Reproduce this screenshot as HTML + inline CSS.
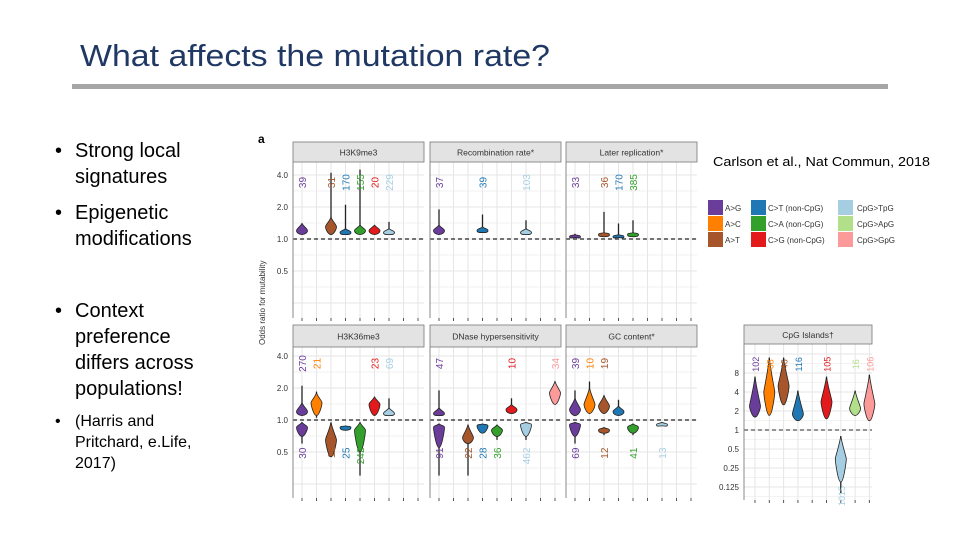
<!DOCTYPE html>
<html><head><meta charset="utf-8"><style>
body{margin:0;width:960px;height:540px;background:#fff;overflow:hidden;font-family:"Liberation Sans",sans-serif}
svg{position:absolute;left:0;top:0}
</style></head><body>
<svg id="s" width="960" height="540" xmlns="http://www.w3.org/2000/svg">
<text x="80" y="66" font-size="31" textLength="470" lengthAdjust="spacingAndGlyphs" fill="#1F3864">What affects the mutation rate?</text>
<rect x="72" y="84" width="816" height="5" fill="#a6a6a6"/>
<g font-size="20" fill="#000">
<text x="55" y="157">•</text><text x="75" y="157">Strong local</text><text x="75" y="183">signatures</text>
<text x="55" y="219">•</text><text x="75" y="219">Epigenetic</text><text x="75" y="245">modifications</text>
<text x="55" y="317">•</text><text x="75" y="317">Context</text><text x="75" y="343">preference</text><text x="75" y="369">differs across</text><text x="75" y="395">populations!</text>
<text x="55" y="426" font-size="16">•</text><text x="75" y="426" font-size="16">(Harris and</text><text x="75" y="447" font-size="16">Pritchard, e.Life,</text><text x="75" y="468" font-size="16">2017)</text>
</g>
<text x="713" y="166" font-size="12.5" textLength="217" lengthAdjust="spacingAndGlyphs">Carlson et al., Nat Commun, 2018</text>
<text x="258" y="143" font-size="12" font-weight="bold">a</text>
<text transform="translate(265,345) rotate(-90)" font-size="8" fill="#333">Odds ratio for mutability</text>
<g id="fig"></g>
</svg>
<script>
const colors=["#6a3d9a","#ff7f00","#a6562a","#1f78b4","#33a02c","#e31a1c","#a6cee3","#b2df8a","#fb9a99"];
const legendLabels=["A>G","A>C","A>T","C>T (non-CpG)","C>A (non-CpG)","C>G (non-CpG)","CpG>TpG","CpG>ApG","CpG>GpG"];
const panelTitles=["H3K9me3","Recombination rate*","Later replication*","H3K36me3","DNase hypersensitivity","GC content*","CpG Islands\u2020"];
const p0Slot=[0,2,3,4,5,6]; const p0Lo=[1.1,1.1,1.1,1.1,1.1,1.1]; const p0Mid=[1.2,1.3,1.15,1.2,1.2,1.15]; const p0Hi=[1.4,1.6,1.25,1.35,1.35,1.25]; const p0WLo=[1.1,1.1,1.1,1.1,1.1,1.1]; const p0WHi=[1.4,4.2,2.1,4.5,1.35,1.45]; const p0N=["39","31","170","155","20","229"];
const p1Slot=[0,3,6]; const p1Lo=[1.1,1.15,1.1]; const p1Mid=[1.2,1.2,1.15]; const p1Hi=[1.35,1.3,1.25]; const p1WLo=[1.1,1.15,1.1]; const p1WHi=[1.9,1.7,1.5]; const p1N=["37","39","103"];
const p2Slot=[0,2,3,4]; const p2Lo=[1.03,1.05,1.03,1.05]; const p2Mid=[1.05,1.1,1.05,1.1]; const p2Hi=[1.1,1.15,1.1,1.15]; const p2WLo=[1.03,1.05,1.03,1.05]; const p2WHi=[1.12,1.8,1.4,1.5]; const p2N=["33","36","170","385"];
const p3Slot=[0,0,1,2,3,4,5,6]; const p3Lo=[1.1,0.7,1.1,0.45,0.8,0.5,1.1,1.1]; const p3Mid=[1.2,0.85,1.45,0.65,0.85,0.8,1.4,1.15]; const p3Hi=[1.45,0.95,1.8,0.95,0.88,0.95,1.65,1.3]; const p3WLo=[1.1,0.6,1.05,0.45,0.8,0.3,1.1,1.1]; const p3WHi=[2.1,0.95,1.85,0.95,0.88,0.95,1.65,1.6]; const p3N=["270","30","21","11","25","242","23","69"];
const p4Slot=[0,0,2,3,4,5,6,8]; const p4Lo=[1.1,0.55,0.6,0.75,0.7,1.15,0.7,1.4]; const p4Mid=[1.15,0.85,0.68,0.88,0.8,1.25,0.9,1.8]; const p4Hi=[1.3,0.92,0.9,0.92,0.9,1.4,0.95,2.3]; const p4WLo=[1.1,0.3,0.3,0.75,0.65,1.15,0.65,1.4]; const p4WHi=[1.9,0.92,0.9,0.92,0.9,1.6,0.95,2.3]; const p4N=["47","91","22","28","36","10","462","34"];
const p5Slot=[0,0,1,2,2,3,4,6]; const p5Lo=[1.1,0.7,1.15,1.15,0.75,1.1,0.75,0.88]; const p5Mid=[1.25,0.9,1.4,1.35,0.8,1.2,0.85,0.9]; const p5Hi=[1.6,0.95,2.0,1.7,0.85,1.35,0.92,0.95]; const p5WLo=[1.1,0.6,1.15,1.15,0.72,1.1,0.72,0.88]; const p5WHi=[1.9,0.95,2.3,1.7,0.85,1.55,0.92,0.95]; const p5N=["39","69","10","19","12","","41","13"];
const p6Slot=[0,1,2,3,5,6,7,8]; const p6Lo=[1.6,1.7,2.5,1.4,1.5,0.15,1.7,1.4]; const p6Mid=[2.4,4,5,1.8,2.8,0.35,2.2,2.6]; const p6Hi=[7,14,14,4.2,7,0.8,4.2,7.5]; const p6WLo=[1.6,1.7,2.5,1.4,1.5,0.1,1.7,1.4]; const p6WHi=[7,14,14,4.2,7,0.8,4.2,7.5]; const p6N=["102","68","46","116","105","1015","16","106"];
const yTicks=["4.0","2.0","1.0","0.5"]; const yTickVals=[4,2,1,0.5];
const cTicks=["8","4","2","1","0.5","0.25","0.125"]; const cTickVals=[8,4,2,1,0.5,0.25,0.125];
const data=[[p0Slot,p0Lo,p0Mid,p0Hi,p0WLo,p0WHi,p0N],[p1Slot,p1Lo,p1Mid,p1Hi,p1WLo,p1WHi,p1N],[p2Slot,p2Lo,p2Mid,p2Hi,p2WLo,p2WHi,p2N],[p3Slot,p3Lo,p3Mid,p3Hi,p3WLo,p3WHi,p3N],[p4Slot,p4Lo,p4Mid,p4Hi,p4WLo,p4WHi,p4N],[p5Slot,p5Lo,p5Mid,p5Hi,p5WLo,p5WHi,p5N],[p6Slot,p6Lo,p6Mid,p6Hi,p6WLo,p6WHi,p6N]];
const geo=[[293,142,162,318,239,32,131,9,14.5],[430,142,162,318,239,32,131,9,14.5],[566,142,162,318,239,32,131,9,14.5],
[293,325,347,498,420,32,131,9,14.5],[430,325,347,498,420,32,131,9,14.5],[566,325,347,498,420,32,131,9,14.5],[744,325,344,500,430,19,128,11,14.3]];
const NS="http://www.w3.org/2000/svg";const fig=document.getElementById('fig');
function mk(t,a,p){const e=document.createElementNS(NS,t);for(const k in a)e.setAttribute(k,a[k]);(p||fig).appendChild(e);return e;}
geo.forEach((g,pi)=>{
 const [px,ht,hb,pb,y1,dbl,w,s0,st]=g;
 const yS=v=>y1-Math.log2(v)*dbl; const xS=i=>px+s0+i*st;
 const grp=mk('g',{});
 
 
 mk('rect',{x:px,y:hb,width:w,height:pb-hb,fill:'#fff'},grp);
 const tv=pi==6?cTickVals:yTickVals;
 for(let k=-4;k<=4;k+=0.5){const yy=yS(Math.pow(2,k));if(yy>hb&&yy<pb)mk('line',{x1:px,x2:px+w,y1:yy,y2:yy,stroke:'#e6e6e6','stroke-width':k%1?0.6:1},grp);}
 for(let i=0;i<9;i++){mk('line',{x1:xS(i),x2:xS(i),y1:hb,y2:pb,stroke:'#e6e6e6'},grp);mk('line',{x1:xS(i),x2:xS(i),y1:pb,y2:pb+3,stroke:'#555'},grp);}
 mk('line',{x1:px,x2:px+w,y1:y1,y2:y1,stroke:pi==6?'#555':'#222','stroke-dasharray':'4,3','stroke-width':1.2},grp);
 mk('rect',{x:px,y:ht,width:w,height:hb-ht,fill:'#e3e3e3',stroke:'#777','stroke-width':0.8},grp);
 const tt=mk('text',{x:px+w/2,y:(ht+hb)/2+3.5,'font-size':8.5,'text-anchor':'middle',fill:'#333'},grp);tt.textContent=panelTitles[pi];
 mk('line',{x1:px,x2:px,y1:hb,y2:pb,stroke:'#888'},grp);
 if(pi==0||pi==3||pi==6){const tl=pi==6?cTicks:yTicks;tv.forEach((v,i)=>{const t=mk('text',{x:px-5,y:yS(v)+3,'font-size':8,'text-anchor':'end',fill:'#333'},grp);t.textContent=tl[i];});}
 const [sl,lo,mid,hi,wl,wh,n]=data[pi];
 sl.forEach((s,i)=>{
  const cx=xS(s),c=colors[s];const below=hi[i]<=1;
  const v=mk('g',{},grp);
  
  
  mk('line',{x1:cx,x2:cx,y1:yS(wl[i]),y2:yS(wh[i]),stroke:'#222','stroke-width':1.3},v);
  const yl=yS(lo[i]),ym=yS(mid[i]),yh=yS(hi[i]);const hw=5.5;
  const d=`M${cx},${yh} C${cx+2},${(yh+ym)/2} ${cx+hw},${ym-2} ${cx+hw},${ym} C${cx+hw},${ym+2} ${cx+3},${yl} ${cx},${yl} C${cx-3},${yl} ${cx-hw},${ym+2} ${cx-hw},${ym} C${cx-hw},${ym-2} ${cx-2},${(yh+ym)/2} ${cx},${yh}Z`;
  mk('path',{d:d,fill:c,stroke:'#222','stroke-width':0.8},v);
  if(n[i]){const t=mk('text',{'font-size':pi==6?9:10,fill:c},v);
   if(below){t.setAttribute('text-anchor','end');t.setAttribute('transform',`translate(${cx+4},${pi==6?yS(0.13):yS(0.55)}) rotate(-90)`);}
   else{t.setAttribute('text-anchor','middle');t.setAttribute('transform',`translate(${cx+4},${pi==6?yS(11):yS(3.4)}) rotate(-90)`);}
   t.textContent=n[i];}
 });
});
const lg=mk('g',{});
const lcx=[708,751,838],ltx=[725,768,857];
legendLabels.forEach((l,i)=>{const col=Math.floor(i/3),row=i%3;const e=mk('g',{},lg);
 
 mk('rect',{x:lcx[col],y:200+row*16,width:15,height:15,fill:colors[i]},e);
 const t=mk('text',{x:ltx[col],y:211+row*16,'font-size':8,fill:'#333'},e);t.textContent=l;});
</script>
</body></html>
